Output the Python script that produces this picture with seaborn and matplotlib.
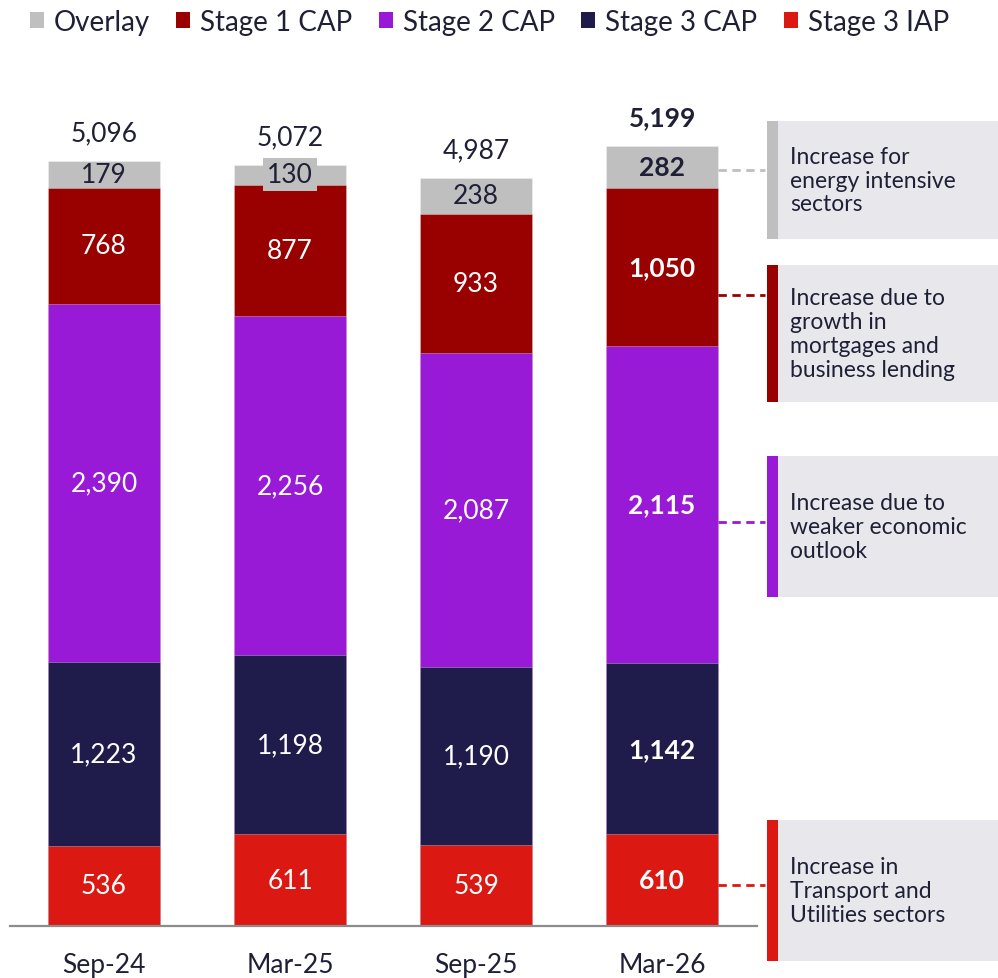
import numpy as np
import pandas as pd
import matplotlib
matplotlib.use("Agg")
import matplotlib.pyplot as plt
from matplotlib.patches import Rectangle, Patch
from matplotlib.lines import Line2D
import seaborn as sns

# ---------------- data ----------------
periods = ["Sep-24", "Mar-25", "Sep-25", "Mar-26"]
stage3_iap = [536, 611, 539, 610]
stage3_cap = [1223, 1198, 1190, 1142]
stage2_cap = [2390, 2256, 2087, 2115]
stage1_cap = [768, 877, 933, 1050]
overlay = [179, 130, 238, 282]
totals = [5096, 5072, 4987, 5199]

series_names = ["Overlay", "Stage 1 CAP", "Stage 2 CAP", "Stage 3 CAP", "Stage 3 IAP"]
notes = [
    "Increase for\nenergy intensive\nsectors",
    "Increase due to\ngrowth in\nmortgages and\nbusiness lending",
    "Increase due to\nweaker economic\noutlook",
    "Increase in\nTransport and\nUtilities sectors",
]

# ---------------- style ----------------
sns.set_theme(style="white")
plt.rcParams["font.family"] = ["Lato", "DejaVu Sans"]
TXT = "#1f2036"
COLORS = {
    "Overlay": "#bfbfbf",
    "Stage 1 CAP": "#990000",
    "Stage 2 CAP": "#981ad6",
    "Stage 3 CAP": "#1f1c4c",
    "Stage 3 IAP": "#db1812",
}

W, H = 998, 979
fig = plt.figure(figsize=(W / 100, H / 100), dpi=100)

def fx(px):
    return px / W

def fy(py):
    return 1 - py / H

base_px, top_px = 927, 60
ax = fig.add_axes([fx(10), fy(base_px), fx(757) - fx(10), fy(top_px) - fy(base_px)])

df = pd.DataFrame({
    "period": periods,
    "Stage 3 IAP": stage3_iap,
    "Stage 3 CAP": stage3_cap,
    "Stage 2 CAP": stage2_cap,
    "Stage 1 CAP": stage1_cap,
    "Overlay": overlay,
})
stack_order = ["Stage 3 IAP", "Stage 3 CAP", "Stage 2 CAP", "Stage 1 CAP", "Overlay"]
cum = df[stack_order].cumsum(axis=1)

# draw from tallest cumulative to shortest so the stack shows
for name in reversed(stack_order):
    sns.barplot(x=df["period"], y=cum[name], color=COLORS[name], saturation=1,
                width=0.6, ax=ax, edgecolor=(1, 1, 1, 0.35), linewidth=0.6)

scale = 0.15003  # px per unit
ax.set_ylim(0, (base_px - top_px) / scale)
ax.set_xlim(-0.505, 3.51)
ax.set_xlabel("")
ax.set_ylabel("")
ax.set_yticks([])
for s in ["top", "right", "left"]:
    ax.spines[s].set_visible(False)
ax.spines["bottom"].set_color("#8c8c8c")
ax.spines["bottom"].set_linewidth(1.6)
ax.tick_params(axis="x", length=0, pad=19, labelsize=19, labelcolor=TXT)

# segment labels
for i in range(len(periods)):
    bold = "bold" if i == 3 else "normal"
    prev = 0
    for name in stack_order:
        v = df[name][i]
        mid = prev + v / 2
        col = TXT if name == "Overlay" else "white"
        kw = {}
        if name == "Overlay" and i == 1:
            kw["bbox"] = dict(boxstyle="square,pad=0.15", fc=COLORS["Overlay"], ec="none")
        ax.text(i, mid, f"{v:,}", ha="center", va="center", color=col,
                fontsize=19, fontweight=bold, **kw)
        prev += v
    ax.annotate(f"{totals[i]:,}", (i, totals[i]), xytext=(0, 20.5),
                textcoords="offset points", ha="center", va="center",
                color=TXT, fontsize=19, fontweight=bold)

# legend
handles = [Patch(facecolor=COLORS[n], edgecolor="none") for n in series_names]
fig.legend(handles, series_names, loc="center left", bbox_to_anchor=(fx(30), fy(23)),
           ncol=5, frameon=False, fontsize=20, handlelength=0.5, handleheight=0.5,
           handletextpad=0.36, columnspacing=0.95, borderaxespad=0, borderpad=0,
           labelcolor=TXT)

# annotation boxes
boxes = [(122, 240), (266, 403), (457, 598), (821, 962)]
box_colors = [COLORS["Overlay"], COLORS["Stage 1 CAP"], COLORS["Stage 2 CAP"], COLORS["Stage 3 IAP"]]
line_y = [171, 296, 523, 886]
for (y0, y1), c, note, ly in zip(boxes, box_colors, notes, line_y):
    fig.patches.append(Rectangle((fx(767), fy(y1)), fx(998) - fx(767), fy(y0) - fy(y1),
                                 transform=fig.transFigure, fc="#e8e8ec", ec="none"))
    fig.patches.append(Rectangle((fx(767), fy(y1)), fx(778) - fx(767), fy(y0) - fy(y1),
                                 transform=fig.transFigure, fc=c, ec="none"))
    fig.text(fx(790), fy((y0 + y1) / 2), note, ha="left", va="center", color=TXT,
             fontsize=16.5, linespacing=1.17)
    fig.add_artist(Line2D([fx(718), fx(765)], [fy(ly), fy(ly)], transform=fig.transFigure,
                          color=c, lw=2, dashes=(3, 2)))

fig.savefig("out.png", dpi=100)
